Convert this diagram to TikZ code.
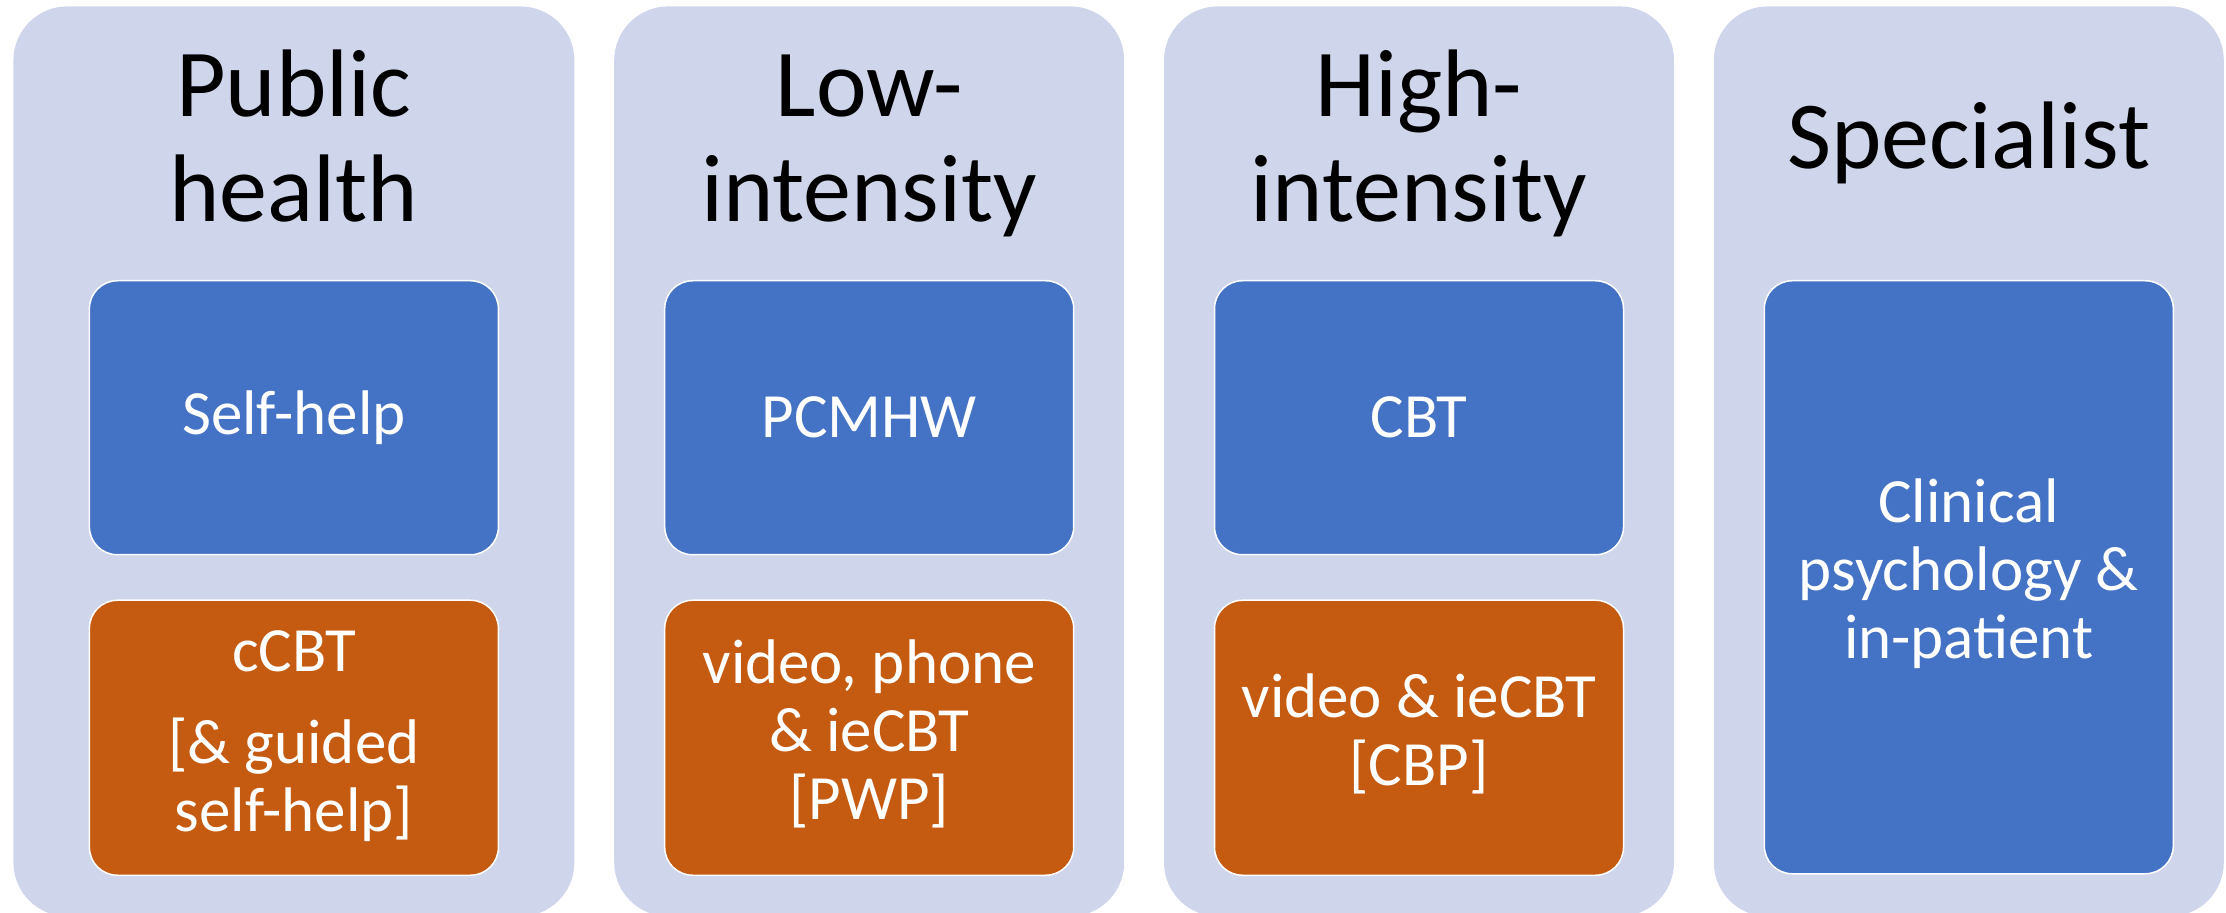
\documentclass[tikz,border=0pt]{standalone}
\usepackage{fontspec}
\setmainfont{Carlito}
\usetikzlibrary{positioning}
\definecolor{tierwash}{HTML}{CFD5EA}
\definecolor{tierblue}{HTML}{4472C4}
\definecolor{tierorange}{HTML}{C55A11}

\begin{document}
\begin{tikzpicture}[
  tier/.style={fill=tierwash, rounded corners=27pt, minimum height=455pt, inner sep=0pt, anchor=north west},
  head/.style={align=center, text=black, inner sep=0pt, font=\fontsize{48}{52.5}\selectfont},
  box/.style={draw=white, line width=0.75pt, rounded corners=14pt, minimum width=204.5pt, align=center, text=white, inner sep=2pt, font=\fontsize{31.5}{34}\selectfont},
  service/.style={box, fill=tierblue, minimum height=137pt},
  mode/.style={box, fill=tierorange, minimum height=137.5pt},
]
\clip (0,0) rectangle (1113pt,-456.5pt);
% the four tiers
\node[tier, minimum width=280.5pt] (public) at (6.5pt,-3pt) {};
\node[tier, minimum width=255pt, right=19.5pt of public] (low) {};
\node[tier, minimum width=255pt, right=19.5pt of low] (high) {};
\node[tier, minimum width=255pt, right=19.5pt of high] (spec) {};

\node[head, below=71pt of public.north, anchor=center] (publicT) {\strut Public\\\strut health};
\node[head, below=71pt of low.north, anchor=center] (lowT) {\strut Low-\\\strut intensity};
\node[head, below=71pt of high.north, anchor=center] (highT) {\strut High-\\\strut intensity};
\node[head, below=71pt of spec.north, anchor=center] (specT) {\strut Specialist};

% services and delivery
\node[service, below=137pt of public.north] (selfhelp) {Self-help};
\node[mode, below=22pt of selfhelp] (ccbt) {\strut cCBT\\[12pt]\strut [\& guided\\\strut self-help]};
\node[service, below=137pt of low.north] (pcmhw) {PCMHW};
\node[mode, below=22pt of pcmhw] (pwp) {\strut video, phone\\\strut \& ieCBT\\\strut [PWP]};
\node[service, below=137pt of high.north] (cbt) {CBT};
\node[mode, below=22pt of cbt] (cbp) {\strut video \& ieCBT\\\strut [CBP]};
\node[service, minimum height=296.5pt, below=137pt of spec.north] (clinical) {\strut Clinical\\\strut psychology \&\\\strut in-patient};
\end{tikzpicture}
\end{document}
